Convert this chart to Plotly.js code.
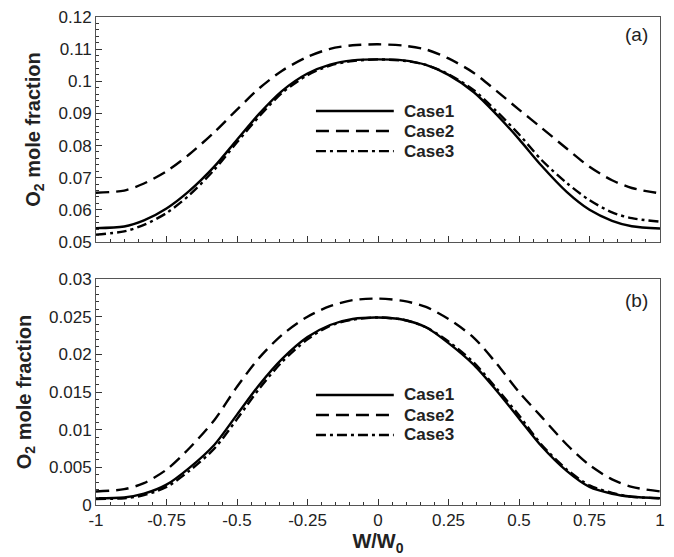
<!DOCTYPE html>
<html>
<head>
<meta charset="utf-8">
<script src="https://cdn.plot.ly/plotly-3.0.1.min.js"></script>
<style>html,body{margin:0;padding:0;background:#fff;}#chart{width:674px;height:557px;}</style>
</head>
<body>
<div id="chart"></div>
<script>
// Spanwise position W/W0
const xPos = [-1, -0.9, -0.83, -0.75, -0.67, -0.58, -0.5, -0.42, -0.34, -0.25, -0.17, -0.09, 0,
              0.09, 0.17, 0.25, 0.34, 0.42, 0.5, 0.58, 0.67, 0.75, 0.83, 0.9, 1];

// Panel (a)
const case1A = [0.0543, 0.0548, 0.0567, 0.0604, 0.0658, 0.0735, 0.0818, 0.0900, 0.0970, 0.1024, 0.1052, 0.1065, 0.1068,
                0.1065, 0.1051, 0.1020, 0.0966, 0.0897, 0.0820, 0.0737, 0.0655, 0.0600, 0.0566, 0.0549, 0.0542];
const case2A = [0.0653, 0.0660, 0.0682, 0.0720, 0.0772, 0.0842, 0.0912, 0.0979, 0.1033, 0.1076, 0.1101, 0.1112, 0.1115,
                0.1111, 0.1099, 0.1071, 0.1026, 0.0970, 0.0912, 0.0855, 0.0790, 0.0734, 0.0692, 0.0668, 0.0651];
const case3A = [0.0523, 0.0533, 0.0553, 0.0590, 0.0645, 0.0725, 0.0810, 0.0892, 0.0964, 0.1019, 0.1049, 0.1063, 0.1068,
                0.1064, 0.1051, 0.1022, 0.0972, 0.0907, 0.0835, 0.0755, 0.0683, 0.0630, 0.0592, 0.0574, 0.0563];

// Panel (b)
const case1B = [0.0009, 0.0010, 0.0015, 0.0027, 0.0049, 0.0080, 0.0120, 0.0160, 0.0194, 0.0223, 0.0239, 0.0247, 0.0249,
                0.0246, 0.0236, 0.0215, 0.0186, 0.0152, 0.0115, 0.0078, 0.0045, 0.0024, 0.0015, 0.0011, 0.0009];
const case2B = [0.0018, 0.0021, 0.0029, 0.0047, 0.0075, 0.0113, 0.0157, 0.0196, 0.0226, 0.0250, 0.0264, 0.0272, 0.0274,
                0.0271, 0.0263, 0.0247, 0.0222, 0.0188, 0.0150, 0.0117, 0.0080, 0.0053, 0.0034, 0.0024, 0.0018];
const case3B = [0.0008, 0.0009, 0.0013, 0.0024, 0.0045, 0.0075, 0.0114, 0.0155, 0.0190, 0.0220, 0.0238, 0.0246, 0.0249,
                0.0246, 0.0236, 0.0217, 0.0189, 0.0155, 0.0119, 0.0080, 0.0047, 0.0026, 0.0016, 0.0011, 0.0009];

const seriesNames = ['Case1', 'Case2', 'Case3'];
const xTickVals = [-1, -0.75, -0.5, -0.25, 0, 0.25, 0.5, 0.75, 1];
const xTickText = ['-1', '-0.75', '-0.5', '-0.25', '0', '0.25', '0.5', '0.75', '1'];
const panelLabels = ['(a)', '(b)'];

const dashes = ['solid', '13px,7px', '10px,4px,3px,4px'];
const FONT = 'Liberation Sans, Arial, sans-serif';

const dataA = [case1A, case2A, case3A];
const dataB = [case1B, case2B, case3B];
const traces = [];
dataA.forEach((ys, i) => traces.push({
  x: xPos, y: ys, xaxis: 'x', yaxis: 'y', mode: 'lines', name: seriesNames[i], showlegend: false,
  line: {color: '#000', width: 2.4, dash: dashes[i], shape: 'spline', smoothing: 0.8}
}));
dataB.forEach((ys, i) => traces.push({
  x: xPos, y: ys, xaxis: 'x2', yaxis: 'y2', mode: 'lines', name: seriesNames[i], showlegend: false,
  line: {color: '#000', width: 2.4, dash: dashes[i], shape: 'spline', smoothing: 0.8}
}));

const axisCommon = {
  showline: true, mirror: true, linecolor: '#555', linewidth: 1,
  ticks: 'inside', ticklen: 6, tickwidth: 1, tickcolor: '#333',
  showgrid: false, zeroline: false,
  tickfont: {family: FONT, size: 17, color: '#222'}
};

const shapes = [];
const annotations = [];
// manual legends inside each panel
[['x domain', 'y domain', [0.582, 0.493, 0.404]], ['x2 domain', 'y2 domain', [0.487, 0.398, 0.310]]].forEach(([xr, yr, ys]) => {
  ys.forEach((yy, i) => {
    shapes.push({type: 'line', xref: xr, yref: yr, x0: 0.39, x1: 0.528, y0: yy, y1: yy,
      line: {color: '#000', width: 2.4, dash: dashes[i]}});
    annotations.push({xref: xr, yref: yr, x: 0.545, y: yy, xanchor: 'left', yanchor: 'middle',
      borderpad: 0,
      text: '<b>' + seriesNames[i] + '</b>', showarrow: false, font: {family: FONT, size: 17, color: '#222'}});
  });
});
annotations.push({xref: 'x domain', yref: 'y domain', x: 0.982, y: 0.924, xanchor: 'right', yanchor: 'middle',
  text: panelLabels[0], showarrow: false, font: {family: FONT, size: 19, color: '#222'}});
annotations.push({xref: 'x2 domain', yref: 'y2 domain', x: 0.982, y: 0.907, xanchor: 'right', yanchor: 'middle',
  text: panelLabels[1], showarrow: false, font: {family: FONT, size: 19, color: '#222'}});

const layout = {
  width: 674, height: 557,
  margin: {l: 96, r: 14, t: 17, b: 52},
  paper_bgcolor: '#fff', plot_bgcolor: '#fff',
  showlegend: false,
  xaxis: Object.assign({}, axisCommon, {
    domain: [0, 1], anchor: 'y', range: [-1, 1], tickvals: xTickVals, ticktext: xTickText, showticklabels: false,
    minor: {dtick: 0.05, ticks: 'inside', ticklen: 3, tickcolor: '#333', showgrid: false}
  }),
  yaxis: Object.assign({}, axisCommon, {
    domain: [0.539, 1], anchor: 'x', range: [0.05, 0.12], dtick: 0.01, tick0: 0.05,
    minor: {dtick: 0.002, ticks: 'inside', ticklen: 3, tickcolor: '#333', showgrid: false},
    title: {text: '<b>O<sub>2</sub> mole fraction</b>', font: {family: FONT, size: 20, color: '#222'}, standoff: 12}
  }),
  xaxis2: Object.assign({}, axisCommon, {
    domain: [0, 1], anchor: 'y2', range: [-1, 1], tickvals: xTickVals, ticktext: xTickText,
    minor: {dtick: 0.05, ticks: 'inside', ticklen: 3, tickcolor: '#333', showgrid: false},
    title: {text: '<b>W/W<sub>0</sub></b>', font: {family: FONT, size: 20, color: '#222'}, standoff: 3}
  }),
  yaxis2: Object.assign({}, axisCommon, {
    domain: [0, 0.463], anchor: 'x2', range: [0, 0.03], dtick: 0.005, tick0: 0,
    minor: {dtick: 0.001, ticks: 'inside', ticklen: 3, tickcolor: '#333', showgrid: false},
    title: {text: '<b>O<sub>2</sub> mole fraction</b>', font: {family: FONT, size: 20, color: '#222'}, standoff: 12}
  }),
  shapes: shapes,
  annotations: annotations
};

Plotly.newPlot('chart', traces, layout, {staticPlot: true, displayModeBar: false});
</script>
</body>
</html>
